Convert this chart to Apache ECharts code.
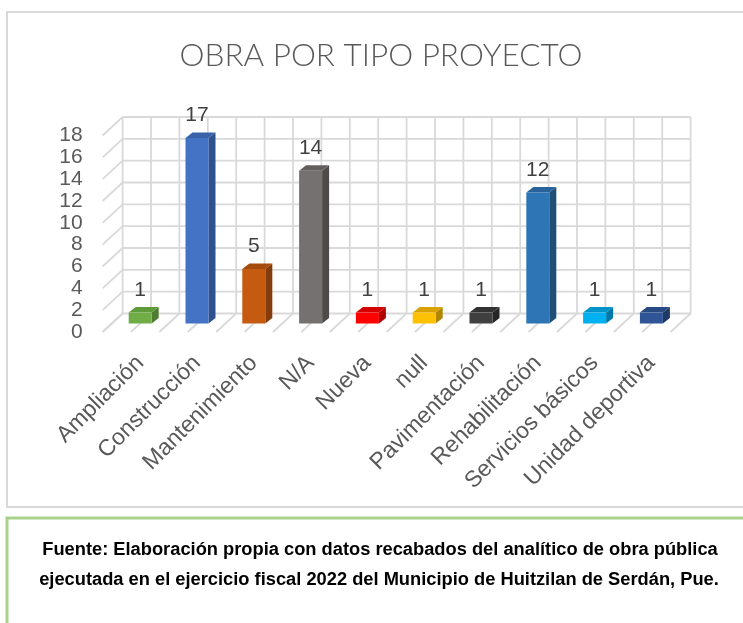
<!DOCTYPE html>
<html><head><meta charset="utf-8">
<script src="https://cdn.jsdelivr.net/npm/echarts@6/dist/echarts.min.js"></script>
<style>html,body{margin:0;padding:0;background:#fff}#c{width:743px;height:623px}</style>
</head><body><div id="c"></div>
<script>
const titleText = 'OBRA POR TIPO PROYECTO';
const categories = ['Ampliación','Construcción','Mantenimiento','N/A','Nueva','null','Pavimentación','Rehabilitación','Servicios básicos','Unidad deportiva'];
const values = [1,17,5,14,1,1,1,12,1,1];
const frontColors = ['#70ad47','#4472c4','#c55a11','#767171','#ff0000','#ffc000','#404040','#2e75b6','#00b0f0','#2f5597'];
const sideColors  = ['#4e7d31','#2f528f','#843c0c','#4f4b4b','#b00000','#b08500','#262626','#1f4e79','#0079a8','#1f3864'];
const topColors   = ['#5f9a3b','#3a62a8','#a44b0e','#625e5e','#d60000','#d9a200','#333333','#27649c','#0094cb','#284a83'];
const yTicks = [0,2,4,6,8,10,12,14,16,18];
const footnoteLines = [
  'Fuente: Elaboración propia con datos recabados del analítico de obra pública',
  'ejecutada en el ejercicio fiscal 2022 del Municipio de Huitzilan de Serdán, Pue.'
];

const DX = 20, DY = -18.5;     // wall depth (front -> back)
const BDX = 7, BDY = -5.5;     // bar depth
const GRID = '#d9d9d9', GW = 1.8;
const FONT = '"Liberation Sans", Arial, sans-serif';

const chart = echarts.init(document.getElementById('c'));

function renderTick(params, api) {
  const t = api.value(1);
  const band = api.size([1, 0])[0];
  const p = api.coord([0, t]);
  const L = p[0] - band / 2;
  const R = api.coord([categories.length - 1, t])[0] + band / 2;
  const y = p[1];
  return {type: 'group', children: [
    {type: 'line', shape: {x1: L, y1: y, x2: L + DX, y2: y + DY}, style: {stroke: GRID, lineWidth: GW}},
    {type: 'line', shape: {x1: L + DX, y1: y + DY, x2: R + DX, y2: y + DY}, style: {stroke: GRID, lineWidth: GW}}
  ]};
}

function renderCatLines(params, api) {
  const i = api.value(0);
  const band = api.size([1, 0])[0];
  const c0 = api.coord([i, 0]);
  const yTop = api.coord([i, yTicks[yTicks.length - 1]])[1];
  const xs = [c0[0] - band / 2, c0[0]];
  if (i === categories.length - 1) xs.push(c0[0] + band / 2);
  const children = [];
  xs.forEach(x => {
    children.push({type: 'line', shape: {x1: x + DX, y1: c0[1] + DY, x2: x + DX, y2: yTop + DY}, style: {stroke: GRID, lineWidth: GW}});
    children.push({type: 'line', shape: {x1: x, y1: c0[1], x2: x + DX, y2: c0[1] + DY}, style: {stroke: GRID, lineWidth: GW}});
  });
  return {type: 'group', children};
}

function renderBar(params, api) {
  const k = params.dataIndex;
  const i = api.value(0), v = api.value(1);
  const base = api.coord([i, 0]);
  const top = api.coord([i, v]);
  const band = api.size([1, 0])[0];
  const w = band * 0.405;
  const x0 = base[0] - w / 2, x1 = base[0] + w / 2;
  const yb = base[1], yt = top[1];
  return {type: 'group', children: [
    {type: 'polygon', shape: {points: [[x1, yb], [x1 + BDX, yb + BDY], [x1 + BDX, yt + BDY], [x1, yt]]}, style: {fill: sideColors[k]}},
    {type: 'polygon', shape: {points: [[x0, yt], [x1, yt], [x1 + BDX, yt + BDY], [x0 + BDX, yt + BDY]]}, style: {fill: topColors[k]}},
    {type: 'rect', shape: {x: x0, y: yt, width: w, height: yb - yt}, style: {fill: frontColors[k]}},
    {type: 'text', style: {text: String(v), x: base[0], y: yt + BDY - 17, align: 'center', verticalAlign: 'middle',
      font: '21px ' + FONT, fill: '#404040'}}
  ]};
}

const option = {
  backgroundColor: '#fff',
  animation: false,
  grid: [
    {left: 102.6, right: 72.4, top: 135.5, bottom: 291},      // front plane
    {left: 111.8, right: 63.2, top: 127, bottom: 299.5}       // bar plane
  ],
  xAxis: [
    {type: 'category', gridIndex: 0, data: categories, show: false},
    {type: 'category', gridIndex: 1, data: categories,
      axisLine: {show: false}, axisTick: {show: false},
      axisLabel: {interval: 0, rotate: 45, margin: 36, fontSize: 23, color: '#595959', fontFamily: FONT}}
  ],
  yAxis: [
    {type: 'value', gridIndex: 0, min: 0, max: 18, interval: 2,
      axisLine: {show: false}, axisTick: {show: false}, splitLine: {show: false},
      axisLabel: {margin: 20, fontSize: 21, color: '#595959', fontFamily: FONT}},
    {type: 'value', gridIndex: 1, min: 0, max: 18, interval: 2, show: false, splitLine: {show: false}}
  ],
  series: [
    {type: 'custom', xAxisIndex: 0, yAxisIndex: 0, renderItem: renderTick, z: 1, silent: true,
      data: yTicks.map(t => [0, t])},
    {type: 'custom', xAxisIndex: 0, yAxisIndex: 0, renderItem: renderCatLines, z: 1, silent: true,
      data: categories.map((c, i) => [i, 0])},
    {type: 'custom', xAxisIndex: 1, yAxisIndex: 1, renderItem: renderBar, z: 5,
      data: values.map((v, i) => [i, v])}
  ],
  graphic: [
    {type: 'rect', shape: {x: 7, y: 12, width: 760, height: 495}, style: {fill: 'none', stroke: '#d9d9d9', lineWidth: 2}, z: 0},
    {type: 'rect', shape: {x: 7, y: 518, width: 760, height: 130}, style: {fill: 'none', stroke: '#a9d18e', lineWidth: 3}, z: 0},
    {type: 'text', style: {text: titleText, x: 381, y: 56, align: 'center', verticalAlign: 'middle',
      font: '300 31.5px Lato, ' + FONT, fill: '#595959'}},
    {type: 'text', style: {text: footnoteLines[0], x: 380, y: 550, align: 'center', verticalAlign: 'middle',
      font: 'bold 18.3px ' + FONT, fill: '#000'}},
    {type: 'text', style: {text: footnoteLines[1], x: 379, y: 580, align: 'center', verticalAlign: 'middle',
      font: 'bold 18.3px ' + FONT, fill: '#000'}}
  ]
};
chart.setOption(option);
</script></body></html>
